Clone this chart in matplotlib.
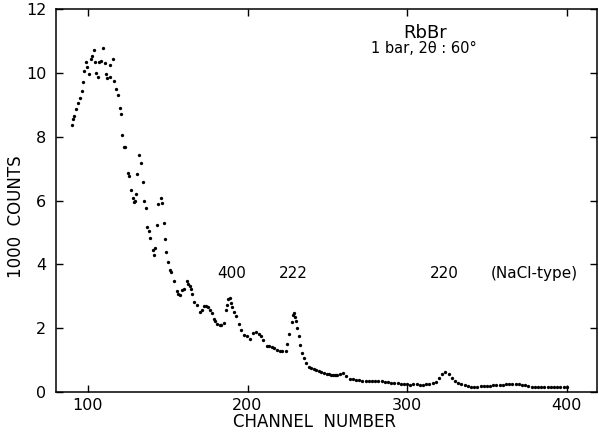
import matplotlib
matplotlib.use("Agg")
import matplotlib.pyplot as plt

# RbBr spectrum, 1 bar, 2theta = 60 deg
channel = [
    90.2, 90.8, 91.4, 92.5, 93.6, 95.0, 96.1, 97.1, 97.5, 98.6,
    99.4, 100.6, 101.7, 102.3, 103.6, 104.4, 105.2, 106.4, 107.1, 108.1,
    109.2, 110.6, 111.3, 111.9, 113.8, 113.9, 115.4, 116.4, 117.3, 118.9,
    120.0, 120.6, 121.4, 122.5, 123.3, 124.8, 125.8, 126.7, 128.3, 128.8,
    129.8, 130.0, 130.8, 131.7, 133.1, 134.6, 135.2, 136.4, 137.3, 138.3,
    139.2, 140.6, 141.3, 142.1, 143.3, 144.2, 145.6, 146.4, 147.5, 148.6,
    149.0, 150.2, 151.4, 152.3, 153.7, 156.0, 156.5, 158.0, 158.8, 160.1,
    161.8, 162.7, 164.1, 164.6, 165.3, 166.7, 168.2, 170.2, 171.7, 172.5,
    174.2, 175.2, 176.7, 177.5, 178.8, 179.8, 180.8, 182.5, 183.6, 185.0,
    186.7, 187.4, 187.8, 188.8, 189.5, 190.4, 191.5, 192.8, 194.5, 196.2,
    197.8, 199.9, 201.8, 203.7, 205.4, 207.0, 208.5, 210.0, 211.9, 213.5,
    215.4, 216.9, 218.5, 220.6, 221.9, 224.0, 225.0, 226.0, 227.9, 228.5,
    229.2, 230.0, 230.2, 231.0, 232.1, 232.7, 234.0, 235.2, 236.7, 238.6,
    240.0, 241.5, 243.2, 244.8, 246.3, 247.8, 249.5, 251.1, 252.5, 253.6,
    254.6, 255.7,
    256, 258, 260, 262, 264, 266, 268, 270, 272, 274,
    276, 278, 280, 282, 284, 286, 288, 290, 292, 294,
    296, 298, 300, 302, 304, 306, 308, 310, 312, 314,
    316, 318, 320, 322, 324, 326, 328, 330, 332, 334,
    336, 338, 340, 342, 344, 346, 348, 350, 352, 354,
    356, 358, 360, 362, 364, 366, 368, 370, 372, 374,
    376, 378, 380, 382, 384, 386, 388, 390, 392, 394,
    396, 398, 400,
]
counts = [
    8.37, 8.55, 8.65, 8.86, 9.07, 9.20, 9.42, 9.70, 10.06, 10.33,
    10.17, 9.98, 10.43, 10.52, 10.72, 10.35, 10.01, 9.86, 10.35, 10.37,
    10.77, 10.32, 9.98, 9.84, 9.87, 10.26, 10.43, 9.76, 9.49, 9.31,
    8.89, 8.72, 8.05, 7.67, 7.67, 6.87, 6.78, 6.34, 6.09, 5.96,
    6.00, 6.21, 6.84, 7.44, 7.18, 6.58, 5.98, 5.77, 5.16, 5.04,
    4.83, 4.44, 4.30, 4.50, 5.22, 5.90, 6.07, 5.93, 5.29, 4.81,
    4.40, 4.07, 3.81, 3.77, 3.49, 3.17, 3.06, 3.03, 3.20, 3.23,
    3.49, 3.39, 3.31, 3.23, 3.07, 2.81, 2.73, 2.51, 2.58, 2.70,
    2.68, 2.66, 2.57, 2.47, 2.29, 2.24, 2.14, 2.10, 2.10, 2.16,
    2.58, 2.73, 2.91, 2.96, 2.79, 2.65, 2.50, 2.37, 2.14, 1.95,
    1.79, 1.77, 1.67, 1.84, 1.89, 1.83, 1.74, 1.63, 1.45, 1.45,
    1.40, 1.37, 1.32, 1.27, 1.30, 1.30, 1.50, 1.81, 2.18, 2.42,
    2.47, 2.35, 2.24, 2.02, 1.74, 1.48, 1.23, 1.06, 0.92, 0.79,
    0.75, 0.71, 0.69, 0.66, 0.63, 0.59, 0.57, 0.56, 0.54, 0.52,
    0.52, 0.52,
    0.53, 0.57, 0.58, 0.50, 0.42, 0.40, 0.39, 0.37, 0.36, 0.36,
    0.35, 0.35, 0.36, 0.35, 0.33, 0.32, 0.31, 0.29, 0.28, 0.27,
    0.26, 0.24, 0.24, 0.23, 0.24, 0.24, 0.23, 0.23, 0.24, 0.25,
    0.28, 0.32, 0.43, 0.55, 0.62, 0.56, 0.44, 0.33, 0.27, 0.24,
    0.22, 0.20, 0.17, 0.15, 0.16, 0.18, 0.19, 0.19, 0.20, 0.21,
    0.22, 0.23, 0.23, 0.24, 0.24, 0.24, 0.25, 0.24, 0.23, 0.21,
    0.19, 0.17, 0.17, 0.16, 0.16, 0.16, 0.15, 0.15, 0.16, 0.16,
    0.16, 0.17, 0.17,
]

# reflection labels: (text, channel, height)
peak_labels = [
    ("400", 190.0, 3.70),
    ("222", 229.0, 3.70),
    ("220", 323.6, 3.70),
    ("(NaCl-type)", 379.4, 3.70),
]

x_ticks = [100, 200, 300, 400]
y_ticks = [0, 2, 4, 6, 8, 10, 12]

plt.rcParams['font.family'] = ['DejaVu Sans']

fig = plt.figure(figsize=(5.99, 4.32), dpi=100)
ax = fig.add_axes([0.0935, 0.0926, 0.9032, 0.8864])

ax.plot(channel, counts, linestyle='none', marker='o', markersize=2.4,
        markeredgewidth=0, color='black')

ax.set_xlim(80, 419)
ax.set_ylim(0, 12)
ax.set_xticks(x_ticks)
ax.set_yticks(y_ticks)
ax.tick_params(direction='in', length=5, width=1.0, top=True, right=True,
               labelsize=11.5)
ax.tick_params(axis='x', pad=4)
ax.tick_params(axis='y', pad=7)
for s in ax.spines.values():
    s.set_linewidth(1.1)

ax.set_xlabel("CHANNEL  NUMBER", fontsize=12)
ax.xaxis.set_label_coords(0.478, -0.055)
ax.set_ylabel("1000  COUNTS", fontsize=12)
ax.yaxis.set_label_coords(-0.057, 0.457)

ax.text(311.1, 11.25, "RbBr", fontsize=13, ha='center', va='center')
ax.text(310.5, 10.75, "1 bar, 2θ : 60°", fontsize=10.5, ha='center', va='center')
for txt, x, y in peak_labels:
    ax.text(x, y, txt, fontsize=11, ha='center', va='center')

fig.savefig("out.png", dpi=100)
